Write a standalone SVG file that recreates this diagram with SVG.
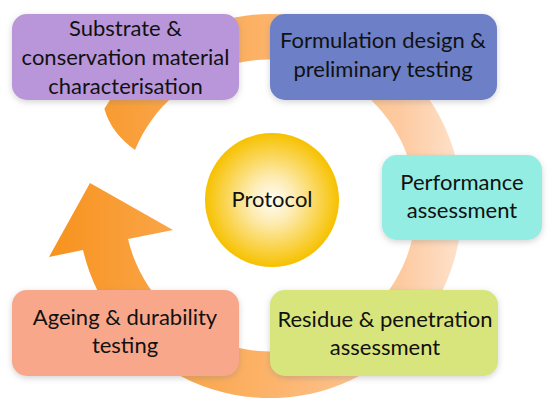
<svg xmlns="http://www.w3.org/2000/svg" width="550" height="405" viewBox="0 0 550 405">
  <defs>
    <linearGradient id="ringGrad" gradientUnits="userSpaceOnUse" x1="50" y1="0" x2="462" y2="0">
      <stop offset="0" stop-color="#F7931E"/>
      <stop offset="0.5" stop-color="#FCB165"/>
      <stop offset="0.85" stop-color="#FDCAA0"/>
      <stop offset="1" stop-color="#FEE2CC"/>
    </linearGradient>
    <radialGradient id="sunGrad" cx="0.5" cy="0.5" r="0.5">
      <stop offset="0" stop-color="#FFFDF5"/>
      <stop offset="0.35" stop-color="#FDEBB0"/>
      <stop offset="0.8" stop-color="#F9CE35"/>
      <stop offset="1" stop-color="#F6C100"/>
    </radialGradient>
    <filter id="shadow" x="-10%" y="-15%" width="120%" height="135%">
      <feGaussianBlur in="SourceAlpha" stdDeviation="3"/>
      <feOffset dx="0" dy="2" result="b"/>
      <feFlood flood-color="#808080" flood-opacity="0.35"/>
      <feComposite in2="b" operator="in"/>
      <feMerge>
        <feMergeNode/>
        <feMergeNode in="SourceGraphic"/>
      </feMerge>
    </filter>
    <style>
      .box { filter: url(#shadow); }
      .lbl { font-family: Lato, "Open Sans", "Liberation Sans", sans-serif; font-size: 22px; fill: #111111; text-anchor: middle; }
    </style>
  </defs>
  <rect width="550" height="405" fill="#FFFFFF"/>

  <g id="connectors">
    <path id="cycle-arrow" fill="url(#ringGrad)"
      d="M 104.4 108.8 A 192 192 0 1 1 83 250 L 49 257 L 90 183 L 173 230 L 128 239 A 146 146 0 1 0 135 150 Q 111 133 104.4 108.8 Z"/>
  </g>

  <g id="node-substrate">
    <rect class="box" x="12" y="14" width="227" height="86" rx="15" fill="#B996D9"/>
    <text class="lbl" x="125.5" y="36">Substrate &amp;</text>
    <text class="lbl" x="125.5" y="65">conservation material</text>
    <text class="lbl" x="125.5" y="94">characterisation</text>
  </g>

  <g id="node-formulation">
    <rect class="box" x="270" y="14" width="227" height="86" rx="15" fill="#6C7FC7"/>
    <text class="lbl" x="383" y="48">Formulation design &amp;</text>
    <text class="lbl" x="383" y="77">preliminary testing</text>
  </g>

  <g id="node-performance">
    <rect class="box" x="382" y="155" width="160" height="85" rx="15" fill="#93EDE3"/>
    <text class="lbl" x="462" y="190">Performance</text>
    <text class="lbl" x="462" y="218">assessment</text>
  </g>

  <g id="node-residue">
    <rect class="box" x="270" y="290" width="228" height="86" rx="15" fill="#D8E57B"/>
    <text class="lbl" x="385" y="327">Residue &amp; penetration</text>
    <text class="lbl" x="385" y="355">assessment</text>
  </g>

  <g id="node-ageing">
    <rect class="box" x="12" y="290" width="227" height="86" rx="15" fill="#F8A78B"/>
    <text class="lbl" x="125" y="325">Ageing &amp; durability</text>
    <text class="lbl" x="125" y="353">testing</text>
  </g>

  <g id="node-protocol">
    <circle cx="272" cy="200" r="67" fill="url(#sunGrad)"/>
    <text class="lbl" x="272" y="207">Protocol</text>
  </g>
</svg>
